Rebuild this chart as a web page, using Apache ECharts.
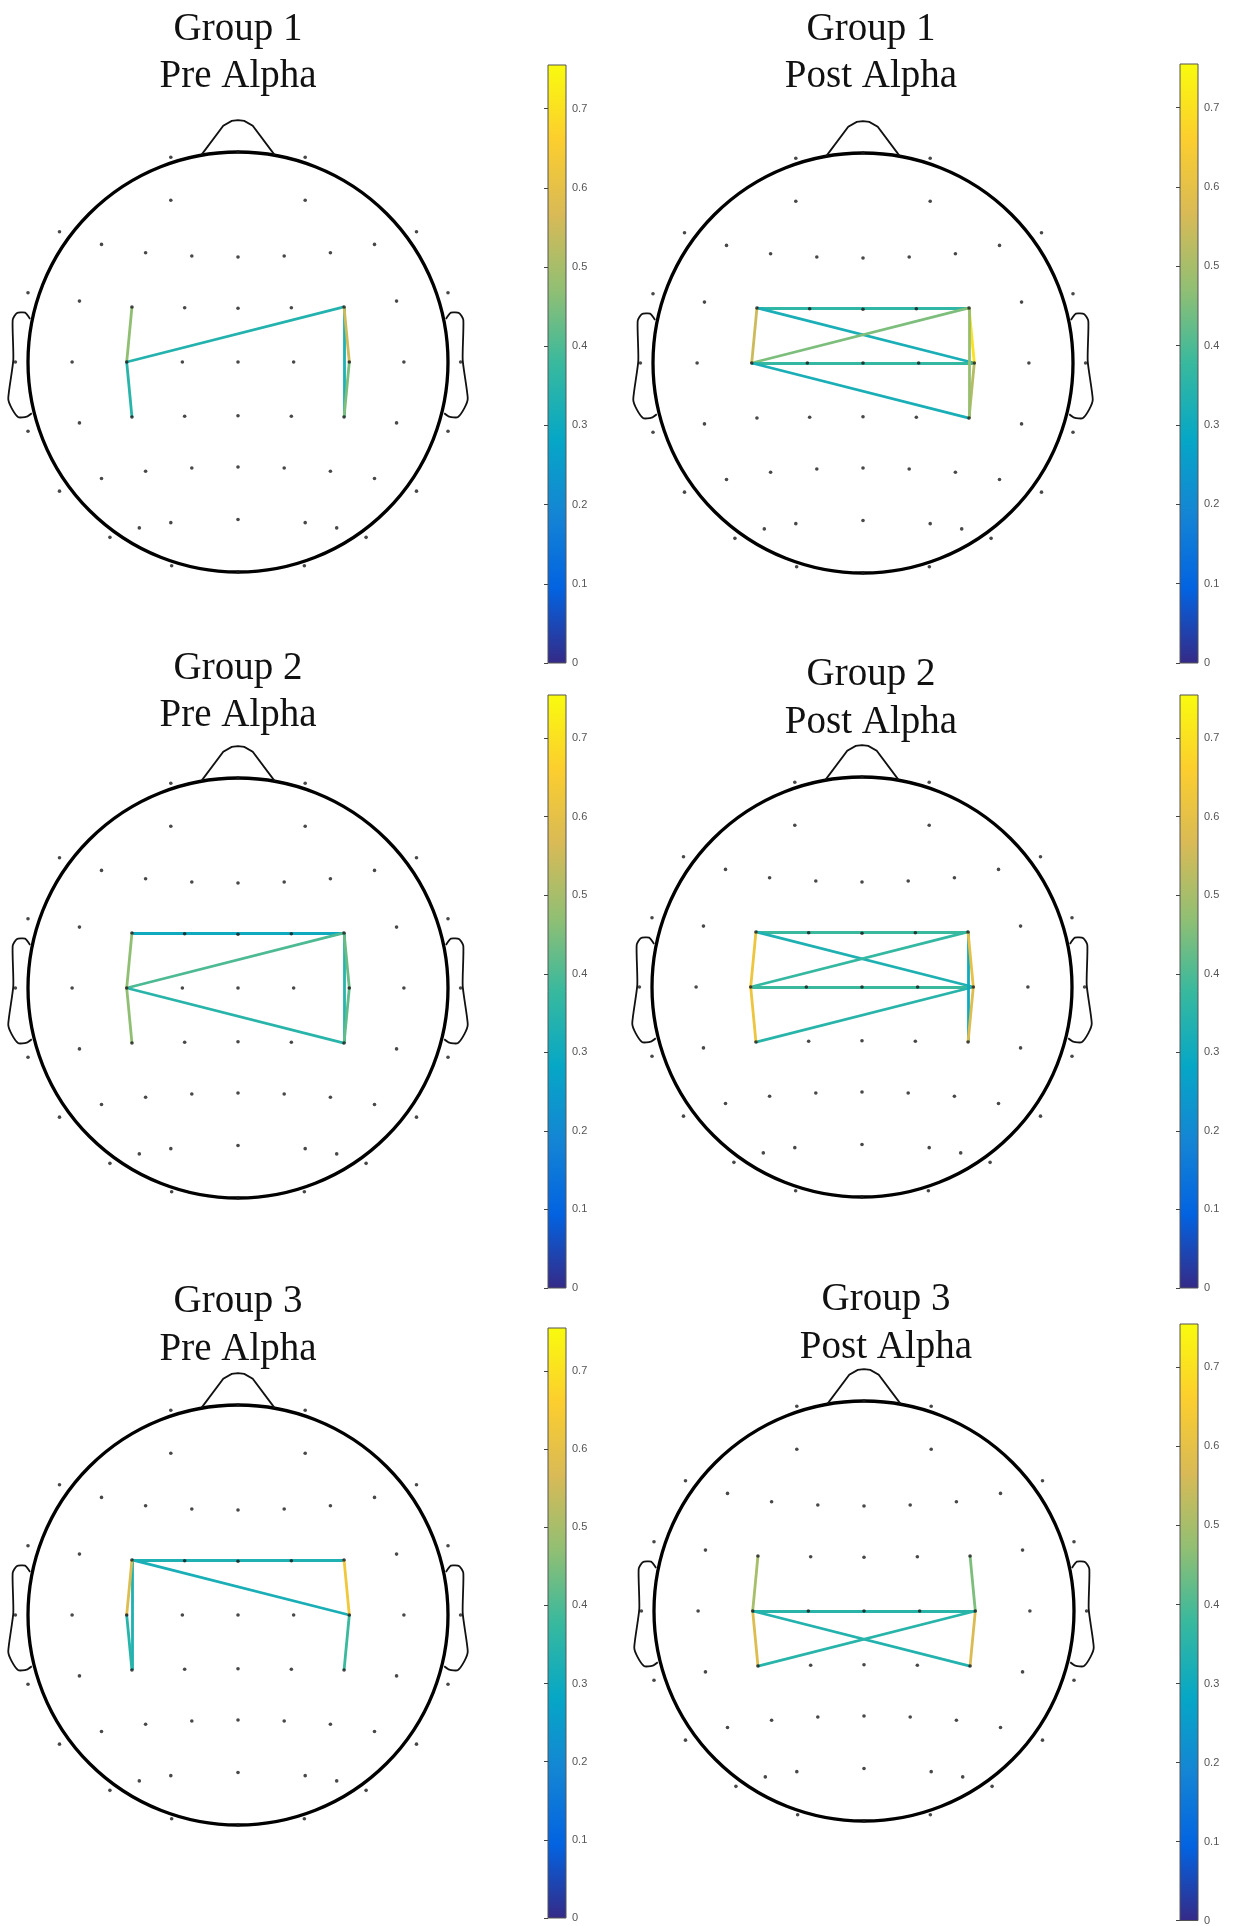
<!DOCTYPE html>
<html>
<head>
<meta charset="utf-8">
<title>Alpha connectivity</title>
<script src="https://cdn.jsdelivr.net/npm/echarts@6/dist/echarts.min.js"></script>
<style>
    html, body {margin: 0; padding: 0; background: #fff;}
    #chart {width: 1235px; height: 1926px;}
</style>
</head>
<body>
<div id="chart"></div>
<script>
// electrode layout, unit = head radius, +y = nose side
const electrodes = [
    [-0.32, 0.975], [0, 1.0], [0.32, 0.975],
    [-0.32, 0.77], [0.32, 0.77],
    [-0.85, 0.62], [0.85, 0.62],
    [-0.65, 0.56], [0.65, 0.56],
    [-0.44, 0.52], [-0.22, 0.505], [0, 0.5], [0.22, 0.505], [0.44, 0.52],
    [-1.0, 0.33], [1.0, 0.33],
    [-0.755, 0.29], [0.755, 0.29],
    [-0.505, 0.262], [-0.254, 0.258], [0, 0.256], [0.254, 0.258], [0.505, 0.262],
    [-1.06, 0], [-0.79, 0], [-0.53, 0], [-0.265, 0], [0, 0], [0.265, 0], [0.53, 0], [0.79, 0], [1.06, 0],
    [-0.505, -0.262], [-0.254, -0.258], [0, -0.256], [0.254, -0.258], [0.505, -0.262],
    [-0.755, -0.29], [0.755, -0.29],
    [-1.0, -0.33], [1.0, -0.33],
    [-0.44, -0.52], [-0.22, -0.505], [0, -0.5], [0.22, -0.505], [0.44, -0.52],
    [-0.65, -0.555], [0.65, -0.555],
    [-0.85, -0.615], [0.85, -0.615],
    [0, -0.75],
    [-0.32, -0.765], [0.32, -0.765],
    [-0.47, -0.79], [0.47, -0.79],
    [-0.61, -0.835], [0.61, -0.835],
    [-0.316, -0.97], [0, -1.0], [0.316, -0.97]
];

// the six sites that carry connections
const sites = {
    F3: [-0.505, 0.262], C3: [-0.53, 0], P3: [-0.505, -0.262],
    F4: [0.505, 0.262], C4: [0.53, 0], P4: [0.505, -0.262]
};

// [from, to, strength]
const g1Pre = [
    ['F3', 'C3', 0.47], ['C3', 'F4', 0.34], ['C3', 'P3', 0.35],
    ['F4', 'P4', 0.33], ['F4', 'C4', 0.55], ['C4', 'P4', 0.45]
];
const g1Post = [
    ['F3', 'F4', 0.36], ['F3', 'C4', 0.32], ['C3', 'F4', 0.45], ['C3', 'C4', 0.37],
    ['C3', 'P4', 0.32], ['F3', 'C3', 0.55], ['F4', 'C4', 0.70], ['C4', 'P4', 0.52],
    ['F4', 'P4', 0.48]
];
const g2Pre = [
    ['F3', 'F4', 0.30], ['C3', 'F4', 0.40], ['C3', 'P4', 0.35], ['F3', 'C3', 0.47],
    ['C3', 'P3', 0.47], ['F4', 'P4', 0.35], ['F4', 'C4', 0.43], ['C4', 'P4', 0.42]
];
const g2Post = [
    ['F3', 'F4', 0.38], ['F3', 'C4', 0.33], ['C3', 'F4', 0.37], ['C3', 'C4', 0.38],
    ['P3', 'C4', 0.35], ['F3', 'C3', 0.62], ['C3', 'P3', 0.62], ['F4', 'P4', 0.30],
    ['F4', 'C4', 0.60], ['C4', 'P4', 0.58]
];
const g3Pre = [
    ['F3', 'F4', 0.33], ['F3', 'C4', 0.32], ['F3', 'P3', 0.33], ['F3', 'C3', 0.58],
    ['C3', 'P3', 0.35], ['F4', 'C4', 0.63], ['C4', 'P4', 0.38]
];
const g3Post = [
    ['F3', 'C3', 0.50], ['C3', 'P3', 0.58], ['F4', 'C4', 0.45], ['C4', 'P4', 0.57],
    ['C3', 'C4', 0.35], ['C3', 'P4', 0.34], ['P3', 'C4', 0.35]
];

const panelTitles = [
    ['Group 1', 'Pre Alpha'], ['Group 1', 'Post Alpha'],
    ['Group 2', 'Pre Alpha'], ['Group 2', 'Post Alpha'],
    ['Group 3', 'Pre Alpha'], ['Group 3', 'Post Alpha']
];
const panelLinks = [g1Pre, g1Post, g2Pre, g2Post, g3Pre, g3Post];

const cbTicks = [0, 0.1, 0.2, 0.3, 0.4, 0.5, 0.6, 0.7];
const cbMax = 0.755;

// ---- layout (pixels) ----
const R = 210;
const heads = [[238, 362], [863, 363], [238, 988], [862, 987], [238, 1615], [864, 1611]];
const titleLines = [[238, 30, 77], [871, 30, 77], [238, 669, 716], [871, 675, 723], [238, 1302, 1350], [886, 1300, 1348]];
const bars = [[548, 65, 663], [1180, 64, 663], [548, 695, 1288], [1180, 695, 1288], [548, 1328, 1918], [1180, 1324, 1921]];
const barW = 18;

const parulaStops = ['#352a87', '#0363e1', '#1485d4', '#06a7c6', '#38b99e', '#92bf73', '#d9ba56', '#fcce2e', '#f9fb0e'];

function hexRgb(h) {
    return [parseInt(h.substr(1, 2), 16), parseInt(h.substr(3, 2), 16), parseInt(h.substr(5, 2), 16)];
}

function parula(t) {
    t = Math.max(0, Math.min(1, t));
    let p = t * (parulaStops.length - 1);
    let i = Math.min(Math.floor(p), parulaStops.length - 2);
    let f = p - i;
    let a = hexRgb(parulaStops[i]), b = hexRgb(parulaStops[i + 1]);
    let c = a.map((v, k) => Math.round(v + (b[k] - v) * f));
    return 'rgb(' + c.join(',') + ')';
}

// head outline pieces (unit coords)
const nosePath = [[-0.175, 0.985], [-0.07, 1.125], [-0.03, 1.148], [0, 1.152], [0.03, 1.148], [0.07, 1.125], [0.175, 0.985]];
const earPath = [[-0.99, 0.205], [-1.014, 0.235], [-1.054, 0.232], [-1.073, 0.2], [-1.07, 0.01], [-1.094, -0.173],
    [-1.078, -0.22], [-1.046, -0.263], [-1.006, -0.26], [-0.982, -0.244]];

function renderHead(params, api) {
    let c = api.coord([0, 0]);
    let r = api.size([1, 1])[0];
    let toPx = pts => pts.map(p => api.coord(p));
    let thin = {fill: null, stroke: '#111', lineWidth: 1.8};
    return {
        type: 'group',
        children: [
            {type: 'circle', shape: {cx: c[0], cy: c[1], r: r}, style: {fill: null, stroke: '#000', lineWidth: 3.3}},
            {type: 'polyline', shape: {points: toPx(nosePath)}, style: thin},
            {type: 'polyline', shape: {points: toPx(earPath), smooth: 0.2}, style: thin},
            {type: 'polyline', shape: {points: toPx(earPath.map(p => [-p[0], p[1]])), smooth: 0.2}, style: thin}
        ]
    };
}

let grid = [], xAxis = [], yAxis = [], series = [], graphic = [];

heads.forEach(function (h, i) {
    grid.push({left: h[0] - 1.12 * R, top: h[1] - 1.2 * R, width: 2.24 * R, height: 2.4 * R});
    xAxis.push({gridIndex: i, type: 'value', min: -1.12, max: 1.12, show: false});
    yAxis.push({gridIndex: i, type: 'value', min: -1.2, max: 1.2, show: false});

    series.push({
        type: 'custom', xAxisIndex: i, yAxisIndex: i, data: [[0, 0]],
        renderItem: renderHead, silent: true, z: 1
    });
    series.push({
        type: 'lines', coordinateSystem: 'cartesian2d', xAxisIndex: i, yAxisIndex: i, silent: true, z: 2,
        lineStyle: {width: 2.8, opacity: 1},
        data: panelLinks[i].map(l => ({
            coords: [sites[l[0]], sites[l[1]]],
            value: l[2],
            lineStyle: {color: parula(l[2] / cbMax)}
        }))
    });
    series.push({
        type: 'scatter', xAxisIndex: i, yAxisIndex: i, silent: true, z: 3,
        symbol: 'circle', symbolSize: 3.6, itemStyle: {color: '#1a1a1a'},
        data: electrodes
    });

    let t = titleLines[i];
    panelTitles[i].forEach(function (txt, k) {
        graphic.push({
            type: 'text', x: t[0], y: t[1 + k], silent: true,
            style: {
                text: txt, fontFamily: '"Liberation Serif", "Times New Roman", serif', fontSize: 39,
                fill: '#111', align: 'center', verticalAlign: 'middle'
            }
        });
    });
});

// colorbars
bars.forEach(function (b, k) {
    let gi = heads.length + k;
    grid.push({
        left: b[0], top: b[1], width: barW, height: b[2] - b[1], show: true,
        borderColor: '#555', borderWidth: 1,
        backgroundColor: {
            type: 'linear', x: 0, y: 1, x2: 0, y2: 0,
            colorStops: parulaStops.map((c, j) => ({offset: j / (parulaStops.length - 1), color: c}))
        }
    });
    xAxis.push({gridIndex: gi, type: 'value', min: 0, max: 1, show: false});
    yAxis.push({
        gridIndex: gi, type: 'value', min: 0, max: cbMax, interval: 0.1, position: 'right',
        axisLine: {show: false},
        axisTick: {show: true, inside: true, length: 4, lineStyle: {color: '#444'}},
        splitLine: {show: false},
        axisLabel: {
            showMaxLabel: false, fontSize: 11, color: '#555', margin: 6,
            fontFamily: '"Liberation Sans", Arial, sans-serif',
            formatter: v => cbTicks.indexOf(Math.round(v * 10) / 10) >= 0 ? String(Math.round(v * 10) / 10) : ''
        }
    });
});

let chart = echarts.init(document.getElementById('chart'), null, {renderer: 'canvas'});
chart.setOption({
    animation: false,
    backgroundColor: '#fff',
    grid: grid,
    xAxis: xAxis,
    yAxis: yAxis,
    series: series,
    graphic: graphic
});
</script>
</body>
</html>
